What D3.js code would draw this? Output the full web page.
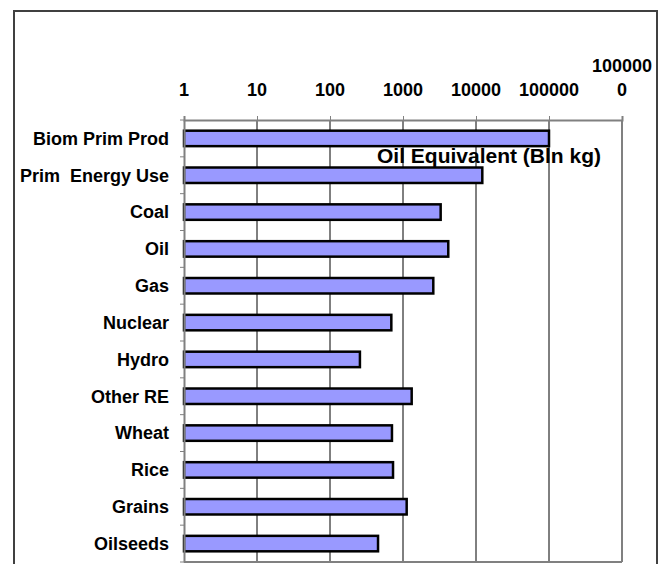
<!DOCTYPE html>
<html>
<head>
<meta charset="utf-8">
<script src="https://cdn.jsdelivr.net/npm/d3@7"></script>
<style>
  body { margin: 0; background: #fff; }
  text { font-family: "Liberation Sans", Arial, sans-serif; font-weight: bold; fill: #000; white-space: pre; }
</style>
</head>
<body>
<div id="chart"></div>
<script>
// Categories and values (oil equivalent, billion kg)
var categories = ["Biom Prim Prod", "Prim  Energy Use", "Coal", "Oil", "Gas", "Nuclear",
                  "Hydro", "Other RE", "Wheat", "Rice", "Grains", "Oilseeds"];
var values = [100000, 12200, 3280, 4170, 2600, 692, 257, 1315, 706, 730, 1123, 455];
var tickValues = [1, 10, 100, 1000, 10000, 100000, 1000000];
var tickLabels = [["1"], ["10"], ["100"], ["1000"], ["10000"], ["100000"], ["100000", "0"]];
var axisTitle = "Oil Equivalent (Bln kg)";

var width = 662, height = 564;
var margin = { top: 120, left: 184, right: 40, bottom: 2 };
var plotW = 622 - margin.left;
var plotH = height - margin.top - margin.bottom;

var svg = d3.select("#chart").append("svg")
    .attr("width", width)
    .attr("height", height);

// Outer chart border
svg.append("rect")
    .attr("x", 14).attr("y", 11)
    .attr("width", 643).attr("height", height)
    .attr("fill", "none")
    .attr("stroke", "#404040")
    .attr("stroke-width", 2);

var g = svg.append("g")
    .attr("transform", "translate(" + margin.left + "," + margin.top + ")");

var x = d3.scaleLog().domain([1, 1000000]).range([0, plotW]);
var y = d3.scaleBand().domain(categories).range([0, plotH]).paddingInner(0.58).paddingOuter(0.29);
var yStep = y.step();

// Gridlines
g.selectAll(".grid")
    .data(tickValues.slice(1, -1))
    .enter().append("line")
    .attr("x1", function (d) { return x(d); })
    .attr("x2", function (d) { return x(d); })
    .attr("y1", 0).attr("y2", plotH)
    .attr("stroke", "#000").attr("stroke-width", 1);

// Plot area right/bottom border
g.append("line")
    .attr("x1", plotW).attr("x2", plotW).attr("y1", 0).attr("y2", plotH)
    .attr("stroke", "#808080").attr("stroke-width", 2);
g.append("line")
    .attr("x1", 0).attr("x2", plotW).attr("y1", plotH).attr("y2", plotH)
    .attr("stroke", "#808080").attr("stroke-width", 2);

// Bars
g.selectAll(".bar")
    .data(values)
    .enter().append("rect")
    .attr("class", "bar")
    .attr("x", x(1))
    .attr("y", function (d, i) { return y(categories[i]); })
    .attr("width", function (d) { return x(d) - x(1); })
    .attr("height", y.bandwidth())
    .attr("fill", "#9999FF")
    .attr("stroke", "#000")
    .attr("stroke-width", 2.5);

// Top axis
var xAxis = g.append("g")
    .call(d3.axisTop(x).tickValues(tickValues).tickSize(4).tickFormat(""));
xAxis.select(".domain").attr("stroke", "#808080").attr("stroke-width", 2);
xAxis.selectAll(".tick line").attr("stroke", "#808080");

// Tick labels (last one wraps over two lines)
var lbl = g.selectAll(".xlabel")
    .data(tickValues)
    .enter().append("text")
    .attr("class", "xlabel")
    .attr("text-anchor", "middle")
    .attr("font-size", "18px")
    .attr("x", function (d) { return x(d); })
    .attr("y", function (d, i) { return -24 - (tickLabels[i].length - 1) * 24; });
lbl.selectAll("tspan")
    .data(function (d, i) { return tickLabels[i]; })
    .enter().append("tspan")
    .attr("x", function () { return d3.select(this.parentNode).attr("x"); })
    .attr("dy", function (d, i) { return i === 0 ? 0 : 24; })
    .text(function (d) { return d; });

// Left category axis
var yAxis = g.append("g")
    .call(d3.axisLeft(y).tickSize(0).tickPadding(15));
yAxis.select(".domain").attr("stroke", "#808080").attr("stroke-width", 2);
yAxis.selectAll(".tick text")
    .attr("font-size", "18px")
    .attr("font-family", "Liberation Sans, Arial, sans-serif")
    .attr("font-weight", "bold")
    .style("white-space", "pre")
    .attr("dy", "0.35em");

// Category boundary tick marks
g.selectAll(".ytick")
    .data(d3.range(categories.length + 1))
    .enter().append("line")
    .attr("x1", -4).attr("x2", 0)
    .attr("y1", function (d) { return d * yStep; })
    .attr("y2", function (d) { return d * yStep; })
    .attr("stroke", "#808080").attr("stroke-width", 1);

// Axis title
svg.append("text")
    .attr("x", 489).attr("y", 163)
    .attr("text-anchor", "middle")
    .attr("font-size", "21px")
    .text(axisTitle);
</script>
</body>
</html>
